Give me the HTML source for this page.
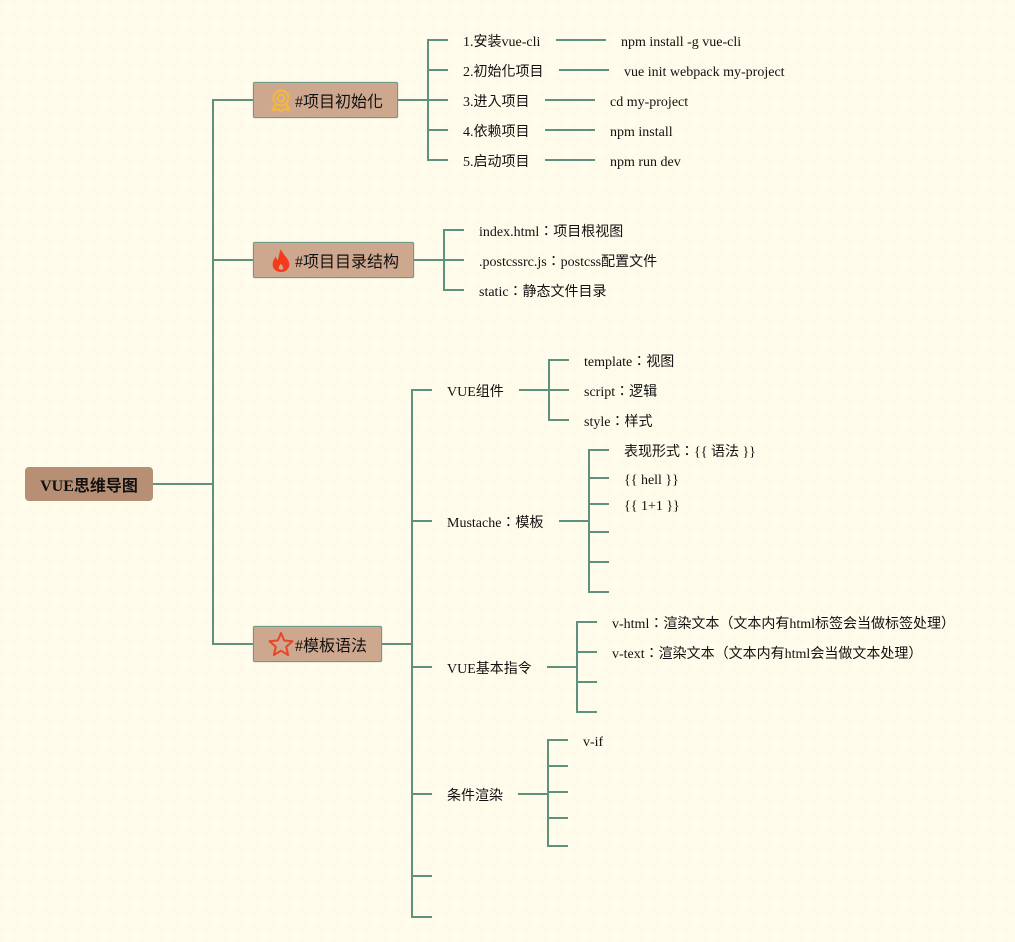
<!DOCTYPE html>
<html><head><meta charset="utf-8"><style>
html,body{margin:0;padding:0}
body{width:1015px;height:942px;overflow:hidden;position:relative;background-color:#fffbea;
background-image:radial-gradient(circle 6px at 8px 8px,#fffdec 0,#fffdec 50%,rgba(255,253,236,0) 100%),radial-gradient(circle 6px at 24px 24px,#fffdec 0,#fffdec 50%,rgba(255,253,236,0) 100%);background-size:32px 32px;
font-family:"Liberation Serif","Noto Sans CJK TC",serif;color:#111}
.t{position:absolute;font-size:14px;line-height:20px;height:17px;overflow:hidden;white-space:nowrap}
.b{position:absolute;background:#cda78e;border:1px solid #6f9a88;box-sizing:border-box;border-radius:2px;height:36px;font-size:16px;line-height:36px;white-space:nowrap;box-shadow:0 0 1px #6f9a88}
.b span{position:absolute;left:41px;top:2px}
.b svg{position:absolute}
svg.l{position:absolute;left:0;top:0}
</style></head><body>
<svg class="l" width="1015" height="942" fill="none" stroke="#5f917f" stroke-width="2">
<path d="M153 484H213M253 100H213V644H253M213 260H253"/>
<path d="M398 100H428M448 40H428V160H448M428 70H448M428 100H448M428 130H448"/>
<path d="M556 40H606M559 70H609M545 100H595M545 130H595M545 160H595"/>
<path d="M414 260H444M464 230H444V290H464M444 260H464"/>
<path d="M382 644H412M432 390H412V917H432M412 521H432M412 667H432M412 794H432M412 876H432"/>
<path d="M519 390H549M569 360H549V420H569M549 390H569"/>
<path d="M559 521H589M609 450H589V592H609M589 478H609M589 504H609M589 532H609M589 562H609"/>
<path d="M547 667H577M597 622H577V712H597M577 652H597M577 682H597"/>
<path d="M518 794H548M568 740H548V846H568M548 766H568M548 792H568M548 818H568"/>
</svg>
<div style="position:absolute;left:25px;top:467px;width:128px;height:34px;background:#b78f74;border-radius:4px;font-size:16px;font-weight:bold;line-height:39px;text-align:center;color:#111;white-space:nowrap">VUE思维导图</div>

<div class="b" style="left:253px;top:82px;width:145px"><svg style="left:16px;top:6px" width="22" height="24" viewBox="0 0 22 24" fill="none" stroke="#f5b93a" stroke-width="2"><path d="M6 14L3 21L8 20L11 22.5L14 20L19 21L16 14"/><circle cx="11" cy="9" r="7.500"/><circle cx="11" cy="9" r="3.500"/></svg><span>#项目初始化</span></div>
<div class="b" style="left:253px;top:242px;width:161px"><svg style="left:15px;top:5px" width="24" height="25" viewBox="0 0 22 24"><path fill="#f53a1c" d="M11 1C12 6 18 9 19 15C19.500 20 15.500 23 11 23C6.500 23 2.500 20 3 15C3.300 12 5 10 6 8C6.500 10 7 11 8 11.500C9 8 9.500 4 11 1ZM11 15C9.500 17 8.500 18 9 20C9.500 21 12.500 21 13 20C13.500 18 12 17 11 15Z" fill-rule="evenodd"/></svg><span>#项目目录结构</span></div>
<div class="b" style="left:253px;top:626px;width:129px"><svg style="left:14px;top:4px" width="26" height="26" viewBox="0 0 26 26" fill="none" stroke="#e8452a" stroke-width="2" stroke-linejoin="round"><path d="M13 2L16.200 9.500L24.500 10.300L18.200 15.800L20.100 24L13 19.700L5.900 24L7.800 15.800L1.500 10.300L9.800 9.500Z"/></svg><span>#模板语法</span></div>

<div class="t" style="left:463px;top:33px">1.安装vue-cli</div>
<div class="t" style="left:463px;top:63px">2.初始化项目</div>
<div class="t" style="left:463px;top:93px">3.进入项目</div>
<div class="t" style="left:463px;top:123px">4.依赖项目</div>
<div class="t" style="left:463px;top:153px">5.启动项目</div>
<div class="t" style="left:621px;top:33px">npm install -g vue-cli</div>
<div class="t" style="left:624px;top:63px">vue init webpack my-project</div>
<div class="t" style="left:610px;top:93px">cd my-project</div>
<div class="t" style="left:610px;top:123px">npm install</div>
<div class="t" style="left:610px;top:153px">npm run dev</div>
<div class="t" style="left:479px;top:223px">index.html：项目根视图</div>
<div class="t" style="left:479px;top:253px">.postcssrc.js：postcss配置文件</div>
<div class="t" style="left:479px;top:283px">static：静态文件目录</div>
<div class="t" style="left:447px;top:383px">VUE组件</div>
<div class="t" style="left:447px;top:514px">Mustache：模板</div>
<div class="t" style="left:447px;top:660px">VUE基本指令</div>
<div class="t" style="left:447px;top:787px">条件渲染</div>
<div class="t" style="left:584px;top:353px">template：视图</div>
<div class="t" style="left:584px;top:383px">script：逻辑</div>
<div class="t" style="left:584px;top:413px">style：样式</div>
<div class="t" style="left:624px;top:443px">表现形式：{{ 语法 }}</div>
<div class="t" style="left:624px;top:471px">{{ hell }}</div>
<div class="t" style="left:624px;top:497px">{{ 1+1 }}</div>
<div class="t" style="left:612px;top:615px">v-html：渲染文本（文本内有html标签会当做标签处理）</div>
<div class="t" style="left:612px;top:645px">v-text：渲染文本（文本内有html会当做文本处理）</div>
<div class="t" style="left:583px;top:733px">v-if</div>
</body></html>
